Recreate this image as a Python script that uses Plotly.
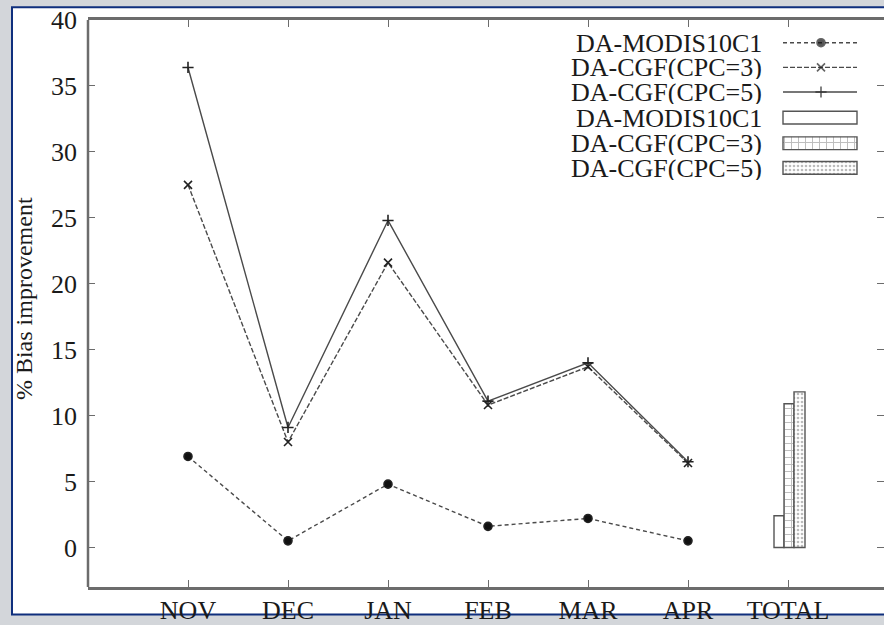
import plotly.graph_objects as go

# ---------------- data ----------------
months = ["NOV", "DEC", "JAN", "FEB", "MAR", "APR"]
tick_labels = ["NOV", "DEC", "JAN", "FEB", "MAR", "APR", "TOTAL"]
tick_positions = [1, 2, 3, 4, 5, 6, 7]
month_positions = [1, 2, 3, 4, 5, 6]

modis_values = [6.9, 0.5, 4.8, 1.6, 2.2, 0.5]
cgf3_values = [27.5, 8.0, 21.6, 10.8, 13.7, 6.4]
cgf5_values = [36.4, 9.1, 24.8, 11.1, 14.0, 6.5]

series_names = ["DA-MODIS10C1", "DA-CGF(CPC=3)", "DA-CGF(CPC=5)"]
total_position = 7
total_values = [2.4, 10.9, 11.8]

y_ticks = [0, 5, 10, 15, 20, 25, 30, 35, 40]

# ---------------- layout geometry (pixels) ----------------
W, H = 884, 625
L, R, T, B = 88, 884, 20, 595

FONT = "Liberation Serif, Times New Roman, serif"
LINE_C = "#4a4a4a"
AXIS_C = "#6c6c6c"

def px_x(p):
    return (p - L) / (R - L)

def px_y(p):
    return (B - p) / (B - T)

fig = go.Figure()

# main lines
line_styles = [
    dict(dash="4px,3px", symbol="circle", size=8, lw=1.4),
    dict(dash="5px,2px", symbol="x-thin", size=8, lw=1.4),
    dict(dash="solid", symbol="cross-thin", size=8, lw=1.4),
]
for name, vals, st in zip(series_names, [modis_values, cgf3_values, cgf5_values], line_styles):
    fig.add_trace(go.Scatter(
        x=month_positions, y=vals, name=name, mode="lines+markers",
        line=dict(color=LINE_C, width=st["lw"], dash=st["dash"]),
        marker=dict(symbol=st["symbol"], size=st["size"], color="#111",
                    line=dict(color="#222", width=1.6)),
        showlegend=False,
    ))

# TOTAL bars
bar_styles = [
    dict(offset=-0.14, width=0.10, pattern=dict(shape="")),
    dict(offset=-0.04, width=0.10, pattern=dict(shape="+", size=7, solidity=0.25, fgcolor="#777", bgcolor="white")),
    dict(offset=0.06, width=0.11, pattern=dict(shape=".", size=4, solidity=0.35, fgcolor="#777", bgcolor="white")),
]
for name, v, st in zip(series_names, total_values, bar_styles):
    fig.add_trace(go.Bar(
        x=[total_position], y=[v], name=name, offset=st["offset"], width=st["width"],
        marker=dict(color="white", line=dict(color="#555", width=1.4), pattern=st["pattern"]),
        showlegend=False,
    ))

# ---------------- manual legend (pixel overlay axes) ----------------
leg_text_right = 763
leg_x0, leg_x1, leg_mid = 783, 857, 821
line_rows = [43, 68, 93]
bar_rows = [119, 145, 170]

for name, st, yy in zip(series_names, line_styles, line_rows):
    fig.add_trace(go.Scatter(
        x=[leg_x0, leg_mid, leg_x1], y=[yy, yy, yy], mode="lines+markers",
        xaxis="x2", yaxis="y2", showlegend=False,
        line=dict(color=LINE_C, width=st["lw"], dash=st["dash"]),
        marker=dict(symbol=st["symbol"], size=[0, st["size"], 0], color="#111",
                    line=dict(color="#222", width=1.6)),
    ))
for name, st, yy in zip(series_names, bar_styles, bar_rows):
    fig.add_trace(go.Bar(
        y=[yy], x=[leg_x1 - leg_x0], base=[leg_x0], orientation="h",
        width=13, offset=-6.5, xaxis="x2", yaxis="y2", showlegend=False,
        marker=dict(color="white", line=dict(color="#555", width=1.4), pattern=st["pattern"]),
    ))

annotations = []
for name, yy in zip(series_names + series_names, line_rows + bar_rows):
    annotations.append(dict(
        x=px_x(leg_text_right), y=px_y(yy), xref="paper", yref="paper",
        text=name, showarrow=False, xanchor="right", yanchor="middle",
        height=24, borderpad=0,
        font=dict(family=FONT, size=26, color="#1a1a1a"),
    ))

# y-axis title
annotations.append(dict(
    x=px_x(24), y=px_y(303), xref="paper", yref="paper",
    text="% Bias improvement", showarrow=False, textangle=-90,
    xanchor="center", yanchor="middle",
    font=dict(family=FONT, size=24, color="#1a1a1a"),
))

shapes = [
    # white framed panel
    dict(type="rect", xref="paper", yref="paper", layer="below",
         x0=px_x(12), x1=px_x(905), y0=px_y(623), y1=px_y(7),
         fillcolor="white", line=dict(color="#0f2f7d", width=2)),
    # left y axis line
    dict(type="line", xref="paper", yref="paper",
         x0=0, x1=0, y0=0, y1=1, line=dict(color=AXIS_C, width=2.5)),
]

fig.update_layout(
    width=W, height=H,
    margin=dict(l=L, r=W - R, t=T, b=H - B, pad=0),
    paper_bgcolor="#d3d6da",
    plot_bgcolor="white",
    font=dict(family=FONT, size=26, color="#1a1a1a"),
    showlegend=False,
    barmode="overlay",
    annotations=annotations,
    shapes=shapes,
    xaxis=dict(
        range=[0, 7.96], tickvals=tick_positions, ticktext=tick_labels,
        showgrid=False, zeroline=False,
        showline=True, linecolor=AXIS_C, linewidth=2.5, mirror="ticks",
        ticks="inside", ticklen=7, tickwidth=1.4, tickcolor=AXIS_C,
        ticklabelstandoff=-2,
        tickfont=dict(family=FONT, size=26, color="#1a1a1a"),
    ),
    yaxis=dict(
        range=[-3, 40], tickvals=y_ticks,
        showgrid=False, zeroline=False,
        showline=False, mirror="ticks",
        ticks="inside", ticklen=7, tickwidth=1.4, tickcolor=AXIS_C,
        ticklabelstandoff=10,
        tickfont=dict(family=FONT, size=26, color="#1a1a1a"),
    ),
    xaxis2=dict(range=[L, R], overlaying="x", visible=False, fixedrange=True),
    yaxis2=dict(range=[B, T], overlaying="y", visible=False, fixedrange=True),
)

fig.write_html(
    "out.html",
    config={"displayModeBar": False},
    post_script="document.body.style.margin='0';document.body.style.padding='0';document.body.style.overflow='hidden';",
)
